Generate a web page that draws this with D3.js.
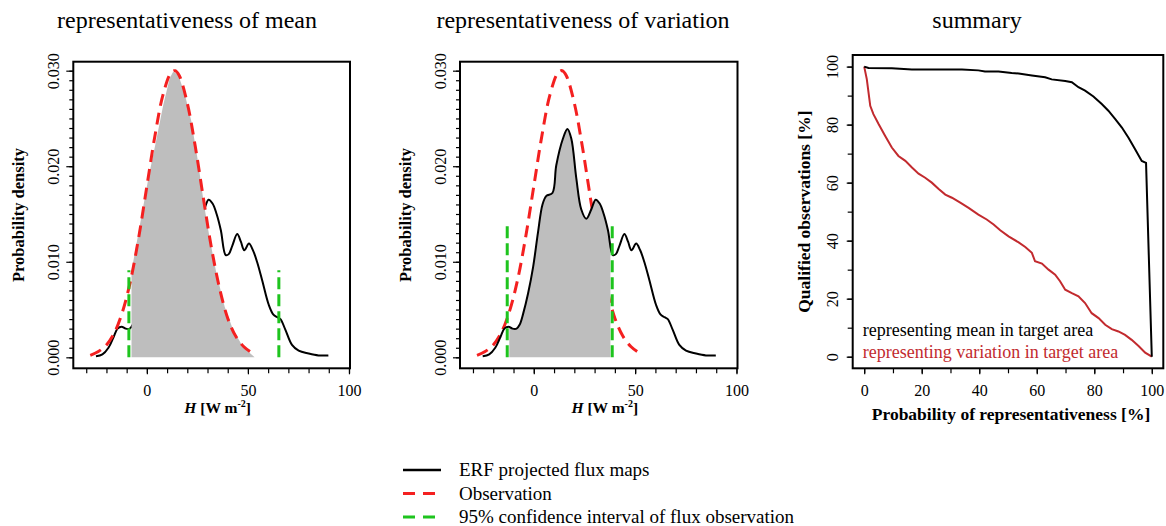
<!DOCTYPE html>
<html>
<head>
<meta charset="utf-8">
<script src="https://cdn.jsdelivr.net/npm/d3@7"></script>
<style>
  body { margin: 0; background: #fff; }
  svg text { font-family: "Liberation Serif", "Times New Roman", serif; }
</style>
</head>
<body>
<svg id="chart" width="1166" height="526"></svg>
<script>
// ERF projected flux density (same curve in both density panels)
var erfX = [-25.2, -22, -19, -16.5, -14.5, -12.5, -10.5, -8.5, -7, -5.2, -2.8, -0.3, 2.1, 4.3, 6.2, 9.2, 11.1, 14.4, 16.6, 18.5, 21, 23.4, 25.9, 28.4, 30.5, 32.5, 34.5, 36.6, 39, 40.5, 42.3, 44.7, 46.5, 48.2, 50.5, 52.5, 54.5, 57, 60.3, 62.5, 64.5, 66.1, 68.5, 71.8, 75.1, 80, 84.9, 89.8];
var erfY = [0.0001, 0.0003, 0.0010, 0.0021, 0.0030, 0.0032, 0.0030, 0.0030, 0.0034, 0.0046, 0.0067, 0.0095, 0.0131, 0.0160, 0.0169, 0.0172, 0.0201, 0.0229, 0.0239, 0.0229, 0.0187, 0.0155, 0.0145, 0.0155, 0.0165, 0.0161, 0.0150, 0.0133, 0.0107, 0.0108, 0.0117, 0.0129, 0.0121, 0.0112, 0.0119, 0.0112, 0.0100, 0.0081, 0.0055, 0.0045, 0.0042, 0.0040, 0.0029, 0.0013, 0.0007, 0.0004, 0.0002, 0.0002];

// observation density (red dashed)
var obsX = [-28, -24, -20, -16, -12, -8, -4, 0, 4, 8, 12, 14, 16, 20, 24, 28, 32, 36, 40, 44, 48, 51];
var obsY = [0.0002, 0.0006, 0.0013, 0.0026, 0.0048, 0.0081, 0.0126, 0.0179, 0.0232, 0.0275, 0.0298, 0.0300, 0.0295, 0.0266, 0.0220, 0.0166, 0.0114, 0.0072, 0.0041, 0.0022, 0.0011, 0.0006];

// grey area, representativeness of mean
var meanFillX = [-7.6, -3.5, 0.7, 4.8, 8.1, 11.3, 13, 15.5, 18.8, 22, 25.3, 28.1, 31.1, 34.4, 38.5, 42.6, 47.5, 53.3];
var meanFillY = [0.0090, 0.0138, 0.0187, 0.0229, 0.0264, 0.0292, 0.0299, 0.0296, 0.0275, 0.0247, 0.0205, 0.0162, 0.0124, 0.0088, 0.0053, 0.0029, 0.0011, 0.0000];

// 95% confidence interval (green) and grey range of variation panel
var ciMean = [-8.9, 65.3], ciMeanTop = 0.0091;
var ciVar = [-13.1, 38.7], ciVarTop = 0.0142;
var varFillRange = [-12.1, 37.8];

var densTicks = [0, 0.01, 0.02, 0.03];
var hTicks = [0, 50, 100];

// summary panel
var meanProb = [0, 1.5, 9.6, 16.6, 28.2, 34, 39.7, 42, 46.7, 51.3, 53.7, 58.3, 62.9, 65.2, 69.9, 72.2, 74.5, 76.8, 79.7, 82.6, 84.9, 87.3, 89.6, 91.9, 94.2, 96.5, 98, 100];
var meanQual = [100, 99.5, 99.4, 99.0, 99.0, 99.0, 98.7, 98.3, 98.3, 97.8, 97.6, 96.9, 96.3, 95.6, 95.0, 94.6, 92.9, 91.7, 89.7, 87.1, 84.8, 81.9, 79.0, 75.5, 71.5, 67.5, 66.8, 0];
var varProb = [0, 0.9, 2.1, 3.2, 5, 7.3, 9.6, 11.9, 14.3, 16.6, 18.9, 21.2, 23.5, 25.8, 28.2, 30.5, 33.4, 36.3, 39.7, 42.6, 45, 47.3, 50.2, 53.7, 56, 58.3, 59.4, 61.8, 64.1, 66.4, 68.1, 69.9, 72.2, 74.5, 76.8, 79.1, 81.5, 83.8, 86.1, 88.4, 90.7, 93, 95.4, 97.7, 100];
var varQual = [100, 95.7, 86.5, 83.6, 80.2, 76.1, 72.1, 69.2, 67.5, 65.2, 63.1, 61.7, 60, 57.9, 55.9, 54.8, 53.1, 51.3, 49, 47.3, 45.6, 43.6, 41.5, 39.4, 37.8, 35.8, 32.9, 32.1, 30, 28.3, 26, 23.1, 21.9, 20.8, 18.5, 15, 13.3, 11, 9.5, 8.7, 7.5, 5.8, 3.7, 1.4, 0];
var pctTicks = [0, 20, 40, 60, 80, 100];

var titles = ["representativeness of mean", "representativeness of variation", "summary"];
var summaryLabels = ["representing mean in target area", "representing variation in target area"];
var legendLabels = ["ERF projected flux maps", "Observation", "95% confidence interval of flux observation"];

var RED = "#f42020", GREEN = "#1ec41e", GREY = "#bebebe", DARKRED = "#c22a2e";

var svg = d3.select("#chart");

function pts(xs, ys) { return xs.map(function(d, i) { return {x: d, y: ys[i]}; }); }

// R-like axes: ticks outward, labels parallel to axis
function drawAxes(g, x, y, box, o) {
  // minor ticks
  g.append("g").attr("transform", "translate(0," + box.bottom + ")")
    .call(d3.axisBottom(x).tickValues(o.xMinor).tickSize(5).tickFormat(""))
    .call(function(a) { a.select(".domain").remove(); });
  g.append("g").attr("transform", "translate(" + box.left + ",0)")
    .call(d3.axisLeft(y).tickValues(o.yMinor).tickSize(o.yMinorLen).tickFormat(""))
    .call(function(a) { a.select(".domain").remove(); });

  var xa = g.append("g").attr("transform", "translate(0," + box.bottom + ")")
    .call(d3.axisBottom(x).tickValues(o.xTicks).tickSize(6).tickPadding(10).tickFormat(d3.format("d")));
  xa.select(".domain").remove();
  xa.selectAll("text").style("font-size", "16px").style("fill", "#000");

  var ya = g.append("g").attr("transform", "translate(" + box.left + ",0)")
    .call(d3.axisLeft(y).tickValues(o.yTicks).tickSize(o.yMajorLen).tickFormat(o.yFormat));
  ya.select(".domain").remove();
  ya.selectAll("text")
    .attr("x", null).attr("dy", null)
    .attr("text-anchor", "middle")
    .attr("transform", "rotate(-90) translate(0,-14.5)")
    .style("font-size", "16px").style("fill", "#000");

  g.selectAll(".tick line").attr("stroke", "#000").attr("stroke-width", 1.2);

  g.append("rect")
    .attr("x", box.left).attr("y", box.top)
    .attr("width", box.right - box.left).attr("height", box.bottom - box.top)
    .attr("fill", "none").attr("stroke", "#000").attr("stroke-width", 2);
}

function densityPanel(box, which) {
  var g = svg.append("g");
  var x = d3.scaleLinear().domain([-36.4, 100.5]).range([box.left, box.right]);
  var y = d3.scaleLinear().domain([-0.00115, 0.03094]).range([box.bottom, box.top]);

  var line = d3.line().x(function(d) { return x(d.x); }).y(function(d) { return y(d.y); }).curve(d3.curveCatmullRom);
  var area = d3.area().x(function(d) { return x(d.x); }).y0(y(0)).y1(function(d) { return y(d.y); }).curve(d3.curveCatmullRom);
  var erf = pts(erfX, erfY), obs = pts(obsX, obsY);

  function drawErf() {
    g.append("path").attr("d", line(erf)).attr("fill", "none").attr("stroke", "#000").attr("stroke-width", 2);
  }
  function drawObs() {
    g.append("path").attr("d", line(obs)).attr("fill", "none").attr("stroke", RED)
      .attr("stroke-width", 3).attr("stroke-dasharray", "12,7");
  }

  var ci, ciTop;
  if (which == "mean") {
    drawErf();
    var mf = pts(meanFillX, meanFillY);
    mf.unshift({x: meanFillX[0], y: 0});
    g.append("path").attr("d", area.curve(d3.curveLinear)(mf)).attr("fill", GREY);
    drawObs();
    ci = ciMean; ciTop = ciMeanTop;
  } else {
    drawObs();
    g.append("clipPath").attr("id", "varclip").append("rect")
      .attr("x", x(varFillRange[0])).attr("y", box.top)
      .attr("width", x(varFillRange[1]) - x(varFillRange[0])).attr("height", box.bottom - box.top);
    g.append("path").attr("d", area(erf)).attr("fill", GREY).attr("clip-path", "url(#varclip)");
    drawErf();
    ci = ciVar; ciTop = ciVarTop;
  }

  // confidence interval bounds
  g.selectAll(".ci").data(ci).enter().append("line")
    .attr("x1", function(d) { return x(d); }).attr("x2", function(d) { return x(d); })
    .attr("y1", y(0)).attr("y2", y(ciTop))
    .attr("stroke", GREEN).attr("stroke-width", 3).attr("stroke-dasharray", "12,5");

  drawAxes(g, x, y, box, {
    xTicks: hTicks, xMinor: d3.range(-30, 101, 10),
    yTicks: densTicks, yMinor: d3.range(0, 0.0305, 0.001),
    yFormat: d3.format(".3f"), yMajorLen: 7, yMinorLen: 4
  });

  var cx = (box.left + box.right) / 2;
  // y label
  g.append("text")
    .attr("transform", "translate(" + (box.left - 49) + "," + ((box.top + box.bottom) / 2) + ") rotate(-90)")
    .attr("text-anchor", "middle").style("font-size", "16.5px").style("font-weight", "bold")
    .text("Probability density");
  // x label  H [W m-2]
  var xl = g.append("text").attr("x", cx + 6).attr("y", 413).attr("text-anchor", "middle")
    .style("font-size", "15.5px").style("font-weight", "bold");
  xl.append("tspan").style("font-style", "italic").text("H");
  xl.append("tspan").text(" [W m");
  xl.append("tspan").attr("dy", -6).style("font-size", "10px").text("-2");
  xl.append("tspan").attr("dy", 6).text("]");
}

densityPanel({left: 73.3, right: 350, top: 61.7, bottom: 368.3}, "mean");
densityPanel({left: 460, right: 737.5, top: 61.7, bottom: 368.3}, "var");

// summary panel
(function() {
  var box = {left: 852.7, right: 1163.3, top: 55, bottom: 368.3};
  var g = svg.append("g");
  var x = d3.scaleLinear().domain([-4, 104]).range([box.left, box.right]);
  var y = d3.scaleLinear().domain([-4, 104]).range([box.bottom, box.top]);
  var line = d3.line().x(function(d) { return x(d.x); }).y(function(d) { return y(d.y); });

  g.append("path").attr("d", line(pts(varProb, varQual))).attr("fill", "none").attr("stroke", DARKRED).attr("stroke-width", 2);
  g.append("path").attr("d", line(pts(meanProb, meanQual))).attr("fill", "none").attr("stroke", "#000").attr("stroke-width", 2);

  drawAxes(g, x, y, box, {
    xTicks: pctTicks, xMinor: d3.range(0, 101, 10),
    yTicks: pctTicks, yMinor: d3.range(0, 101, 10),
    yFormat: d3.format("d"), yMajorLen: 6, yMinorLen: 5
  });

  g.selectAll(".lab").data(summaryLabels).enter().append("text")
    .attr("x", 862.7).attr("y", function(d, i) { return 336 + i * 22.3; })
    .style("fill", function(d, i) { return i ? DARKRED : "#000"; })
    .style("font-size", "18px")
    .text(function(d) { return d; });

  g.append("text")
    .attr("transform", "translate(810," + ((box.top + box.bottom) / 2) + ") rotate(-90)")
    .attr("text-anchor", "middle").style("font-size", "17.5px").style("font-weight", "bold")
    .text("Qualified observations [%]");
  g.append("text").attr("x", 1011).attr("y", 420).attr("text-anchor", "middle")
    .style("font-size", "17.5px").style("font-weight", "bold")
    .text("Probability of representativeness [%]");
})();

// titles
svg.selectAll(".title").data(titles).enter().append("text")
  .attr("x", function(d, i) { return [187, 583, 977][i]; }).attr("y", 28)
  .attr("text-anchor", "middle").style("font-size", "24px")
  .text(function(d) { return d; });

// legend
var leg = svg.append("g").selectAll("g").data(legendLabels).enter().append("g")
  .attr("transform", function(d, i) { return "translate(0," + (470 + i * 23.5) + ")"; });
leg.append("line").attr("x1", 403).attr("x2", 441)
  .attr("stroke", function(d, i) { return ["#000", RED, GREEN][i]; })
  .attr("stroke-width", function(d, i) { return i ? 3 : 2.5; })
  .attr("stroke-dasharray", function(d, i) { return i ? "12,8" : null; });
leg.append("text").attr("x", 459).attr("y", 6).style("font-size", "19px")
  .text(function(d) { return d; });
</script>
</body>
</html>
